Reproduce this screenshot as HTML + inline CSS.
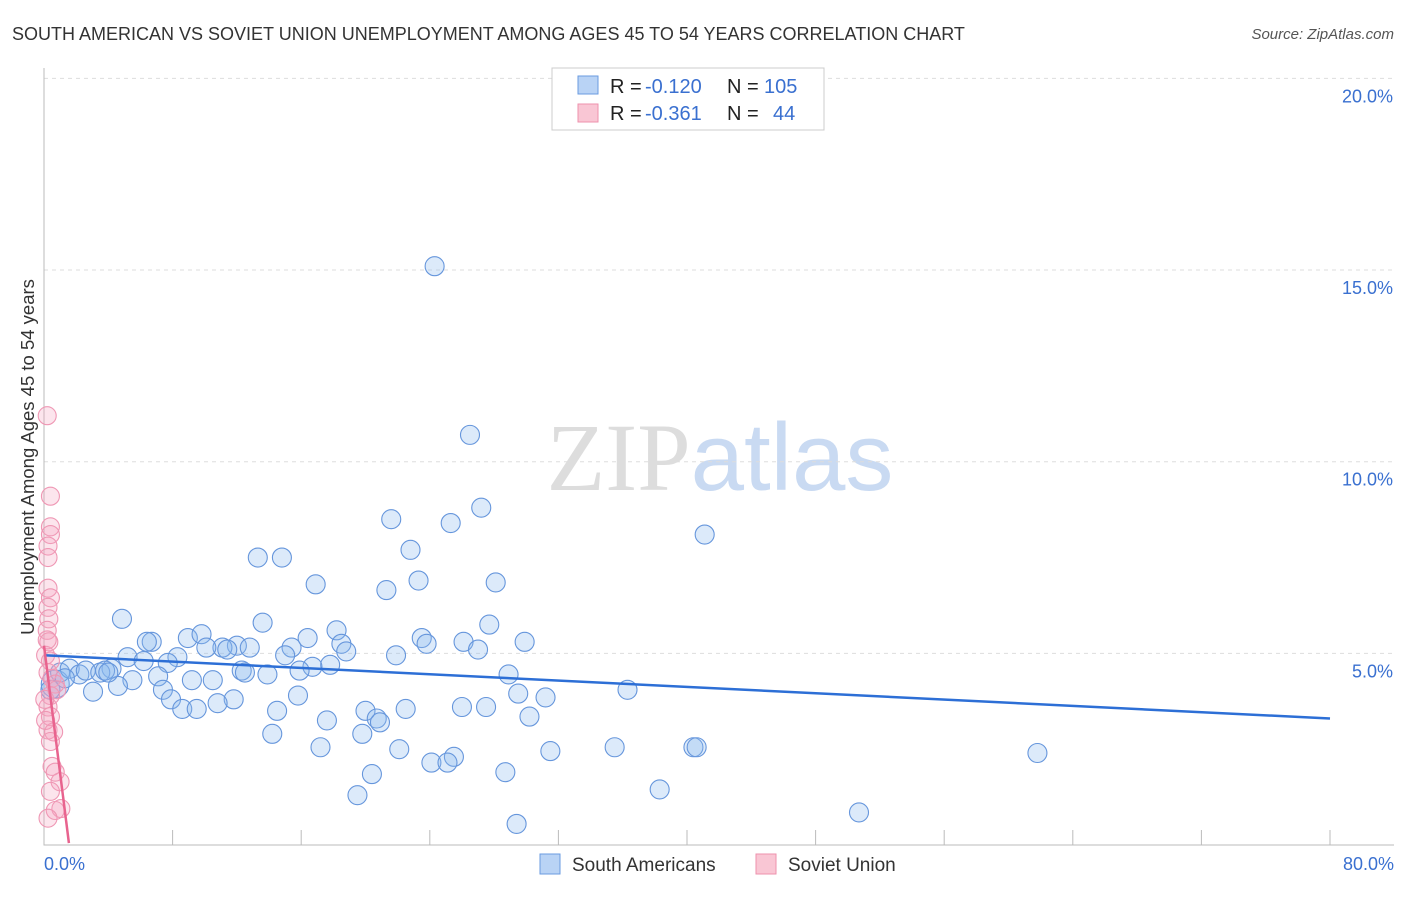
<!DOCTYPE html>
<html><head><meta charset="utf-8"><style>
body{margin:0;background:#fff;font-family:"Liberation Sans",sans-serif}
</style></head><body>
<svg id="c" width="1406" height="892" xmlns="http://www.w3.org/2000/svg" font-family="Liberation Sans, sans-serif">
<text x="12" y="40" font-size="18" fill="#333">SOUTH AMERICAN VS SOVIET UNION UNEMPLOYMENT AMONG AGES 45 TO 54 YEARS CORRELATION CHART</text>
<text x="1394" y="39" font-size="15" fill="#555" text-anchor="end" font-style="italic">Source: ZipAtlas.com</text>
<text transform="translate(34,457) rotate(-90)" font-size="18.5" fill="#333" text-anchor="middle">Unemployment Among Ages 45 to 54 years</text>
<text x="720" y="490" font-size="96" text-anchor="middle"><tspan fill="#ddd" font-family="Liberation Serif, serif">ZIP</tspan><tspan fill="#c9daf2">atlas</tspan></text>
<g id="grid"></g><g id="pts"></g><g id="lines"></g>
<g>
<rect x="552" y="68" width="272" height="62" fill="#fff" stroke="#ccc"/>
<rect x="578" y="76" width="20" height="18" fill="#b9d3f5" stroke="#6a9be0"/>
<rect x="578" y="104" width="20" height="18" fill="#f9c6d4" stroke="#ee91ad"/>
<g font-size="20" fill="#222">
<text x="610" y="93">R =</text><text x="645" y="93" fill="#3a70d0">-0.120</text>
<text x="727" y="93">N =</text><text x="764" y="93" fill="#3a70d0">105</text>
<text x="610" y="120">R =</text><text x="645" y="120" fill="#3a70d0">-0.361</text>
<text x="727" y="120">N =</text><text x="773" y="120" fill="#3a70d0">44</text>
</g>
</g>
<g>
<rect x="540" y="854" width="20" height="20" fill="#b9d3f5" stroke="#6a9be0"/>
<text x="572" y="871" font-size="19" fill="#333">South Americans</text>
<rect x="756" y="854" width="20" height="20" fill="#f9c6d4" stroke="#ee91ad"/>
<text x="788" y="871" font-size="19" fill="#333">Soviet Union</text>
</g>
</svg>
<script>
const yTicks=[5,10,15,20];
const xTickLabels=["0.0%","80.0%"];
const blueX=[24.3,26.5,21.6,25.3,27.2,41.1,22.8,13.3,14.8,16.9,21.3,23.3,28.1,4.85,13.6,27.7,6.7,6.4,8.95,9.8,18.2,16.4,15.4,18.5,18.8,12.0,12.8,11.1,10.1,11.4,23.5,23.8,26.1,27.0,29.9,21.9,15.0,17.8,16.7,15.9,8.3,5.2,6.2,7.7,4.2,28.9,12.3,12.5,13.9,7.1,5.5,9.2,10.5,4.6,3.05,7.4,36.3,15.8,29.5,31.2,7.9,11.8,10.8,8.6,9.5,14.5,20.0,22.5,26.0,27.5,20.7,20.9,17.6,30.2,14.2,19.8,17.2,22.1,35.5,40.4,40.6,31.5,25.5,24.1,25.1,61.8,20.4,28.7,38.3,19.5,50.7,29.4,0.7,1.0,1.6,2.2,1.3,2.6,3.5,3.8,4.0,0.4];
const blueY=[15.1,10.7,8.5,8.4,8.8,8.1,7.7,7.5,7.5,6.8,6.65,6.9,6.85,5.9,5.8,5.75,5.3,5.3,5.4,5.5,5.6,5.4,5.15,5.25,5.05,5.2,5.15,5.15,5.15,5.1,5.4,5.25,5.3,5.1,5.3,4.95,4.95,4.7,4.65,4.55,4.9,4.9,4.8,4.75,4.6,4.45,4.55,4.5,4.45,4.4,4.3,4.3,4.3,4.15,4.0,4.05,4.05,3.9,3.95,3.85,3.8,3.8,3.7,3.55,3.55,3.5,3.5,3.55,3.6,3.6,3.3,3.2,3.25,3.35,2.9,2.9,2.55,2.5,2.55,2.55,2.55,2.45,2.3,2.15,2.15,2.4,1.85,1.9,1.45,1.3,0.85,0.55,4.2,4.5,4.6,4.45,4.35,4.55,4.5,4.55,4.5,4.05];
const pinkX=[0.2,0.4,0.4,0.4,0.25,0.25,0.25,0.4,0.25,0.3,0.2,0.3,0.1,0.4,0.25,0.5,0.7,0.8,0.4,0.25,0.4,0.25,0.6,0.4,0.5,0.7,1.0,0.4,1.05,0.7,0.25,0.05,0.2,0.1];
const pinkY=[11.2,9.1,8.3,8.1,7.8,7.5,6.7,6.45,6.2,5.9,5.6,5.3,4.95,4.8,4.5,4.35,4.2,4.05,3.9,3.6,3.35,3.0,2.95,2.7,2.05,1.9,1.65,1.4,0.95,0.9,0.7,3.8,5.35,3.25];
const blueTrend=[[0,4.95],[80,3.3]];
const pinkTrend=[[0,5.2],[1.55,0.05]];
const NS="http://www.w3.org/2000/svg";
const X=v=>44+v/80*1286, Y=v=>845-v*38.33;
function mk(tag,at,parent){const e=document.createElementNS(NS,tag);for(const k in at)e.setAttribute(k,at[k]);document.getElementById(parent).appendChild(e);return e;}
yTicks.forEach(t=>{
  const l=mk('line',{x1:44,x2:1394,y1:Y(t),y2:Y(t),stroke:'#ddd','stroke-dasharray':'4,4'},'grid');
  
  
  const tx=mk('text',{x:1393,y:Y(t)+24,'font-size':18,fill:'#3a70d0','text-anchor':'end'},'grid');
  tx.textContent=t.toFixed(1)+'%';
  
  
});
const ax=mk('path',{d:'M44,68V845H1394',fill:'none',stroke:'#bbb'},'grid');


for(let i=1;i<=10;i++){const t=mk('line',{x1:X(i*8),x2:X(i*8),y1:830,y2:845,stroke:'#bbb'},'grid');
  
  }
[[0,'start',44],[80,'end',1394]].forEach((d,i)=>{const t=mk('text',{x:d[2],y:870,'font-size':18,fill:'#3a70d0','text-anchor':d[1]},'grid');t.textContent=xTickLabels[i];
  
  });
blueX.forEach((v,i)=>{const c=mk('circle',{cx:X(v),cy:Y(blueY[i]),r:(i==92?14:9.5),fill:'rgba(140,185,240,0.3)',stroke:'#6696dc','stroke-width':1.1},'pts');
  
  });
pinkX.forEach((v,i)=>{const c=mk('circle',{cx:X(v),cy:Y(pinkY[i]),r:9,fill:'rgba(245,160,190,0.28)',stroke:'#ef97b4','stroke-width':1.1},'pts');
  
  });
const bl=mk('line',{x1:X(blueTrend[0][0]),y1:Y(blueTrend[0][1]),x2:X(blueTrend[1][0]),y2:Y(blueTrend[1][1]),stroke:'#2d6fd6','stroke-width':2.5},'lines');


const pl=mk('line',{x1:X(pinkTrend[0][0]),y1:Y(pinkTrend[0][1]),x2:X(pinkTrend[1][0]),y2:Y(pinkTrend[1][1]),stroke:'#e8638e','stroke-width':2.5},'lines');


</script>
</body></html>
